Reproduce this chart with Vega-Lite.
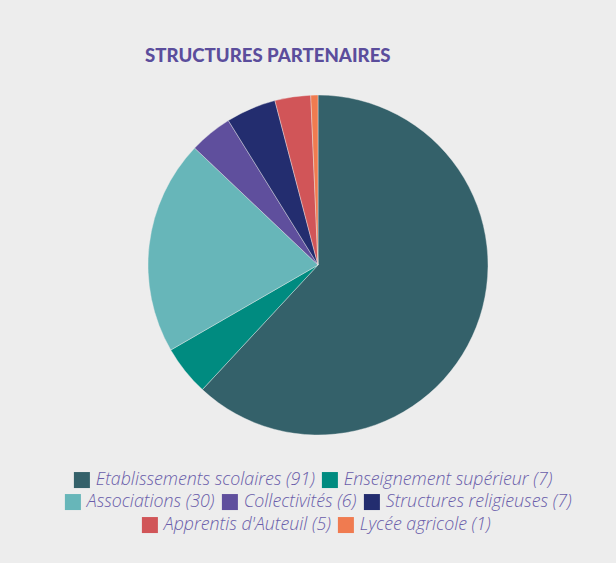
{
  "$schema": "https://vega.github.io/schema/vega-lite/v6.json",
  "width": 340,
  "height": 340,
  "autosize": {"type": "none"},
  "padding": {"left": 148, "top": 95, "right": 128, "bottom": 128},
  "background": "#ededed",
  "view": {"stroke": null},
  "title": {
    "text": "STRUCTURES PARTENAIRES",
    "anchor": "start",
    "frame": "group",
    "font": "Lato",
    "fontWeight": 900,
    "fontSize": 18.6,
    "color": "#5b4d9c",
    "offset": 29,
    "dx": -3
  },
  "config": {
    "legend": {
      "title": null,
      "labelFont": "Open Sans",
      "labelFontStyle": "italic",
      "labelFontWeight": 300,
      "labelFontSize": 17.8,
      "labelColor": "#6a5daa",
      "symbolType": "square",
      "symbolSize": 256,
      "symbolStrokeWidth": 0,
      "symbolOpacity": 1,
      "labelOffset": 5,
      "columnPadding": 6,
      "labelLimit": 400,
      "direction": "horizontal",
      "orient": "none"
    }
  },
  "data": {
    "values": [
      {"label": "Etablissements scolaires (91)", "n": 91, "order": 1, "grp": 1},
      {"label": "Enseignement supérieur (7)", "n": 7, "order": 2, "grp": 1},
      {"label": "Associations (30)", "n": 30, "order": 3, "grp": 2},
      {"label": "Collectivités (6)", "n": 6, "order": 4, "grp": 2},
      {"label": "Structures religieuses (7)", "n": 7, "order": 5, "grp": 2},
      {"label": "Apprentis d'Auteuil (5)", "n": 5, "order": 6, "grp": 3},
      {"label": "Lycée agricole (1)", "n": 1, "order": 7, "grp": 3}
    ]
  },
  "transform": [
    {"stack": "n", "groupby": [], "sort": [{"field": "order", "order": "ascending"}], "as": ["start", "end"]}
  ],
  "layer": [
    {
      "transform": [{"filter": "datum.grp == 1"}],
      "mark": {"type": "arc", "stroke": "#ededed", "strokeWidth": 0.4},
      "encoding": {
        "theta": {"field": "start", "type": "quantitative", "scale": {"domain": [0, 147]}},
        "theta2": {"field": "end"},
        "color": {
          "field": "label",
          "type": "nominal",
          "scale": {"domain": ["Etablissements scolaires (91)", "Enseignement supérieur (7)"], "range": ["#34616a", "#008b80"]},
          "legend": {"legendX": -75, "legendY": 376, "columns": 2}
        }
      }
    },
    {
      "transform": [{"filter": "datum.grp == 2"}],
      "mark": {"type": "arc", "stroke": "#ededed", "strokeWidth": 0.4},
      "encoding": {
        "theta": {"field": "start", "type": "quantitative", "scale": {"domain": [0, 147]}},
        "theta2": {"field": "end"},
        "color": {
          "field": "label",
          "type": "nominal",
          "scale": {"domain": ["Associations (30)", "Collectivités (6)", "Structures religieuses (7)"], "range": ["#67b6b9", "#5f4f9d", "#232d6f"]},
          "legend": {"legendX": -84, "legendY": 398, "columns": 3}
        }
      }
    },
    {
      "transform": [{"filter": "datum.grp == 3"}],
      "mark": {"type": "arc", "stroke": "#ededed", "strokeWidth": 0.4},
      "encoding": {
        "theta": {"field": "start", "type": "quantitative", "scale": {"domain": [0, 147]}},
        "theta2": {"field": "end"},
        "color": {
          "field": "label",
          "type": "nominal",
          "scale": {"domain": ["Apprentis d'Auteuil (5)", "Lycée agricole (1)"], "range": ["#d15558", "#f07b50"]},
          "legend": {"legendX": -7, "legendY": 421, "columns": 2}
        }
      }
    }
  ],
  "resolve": {"scale": {"color": "independent"}}
}
